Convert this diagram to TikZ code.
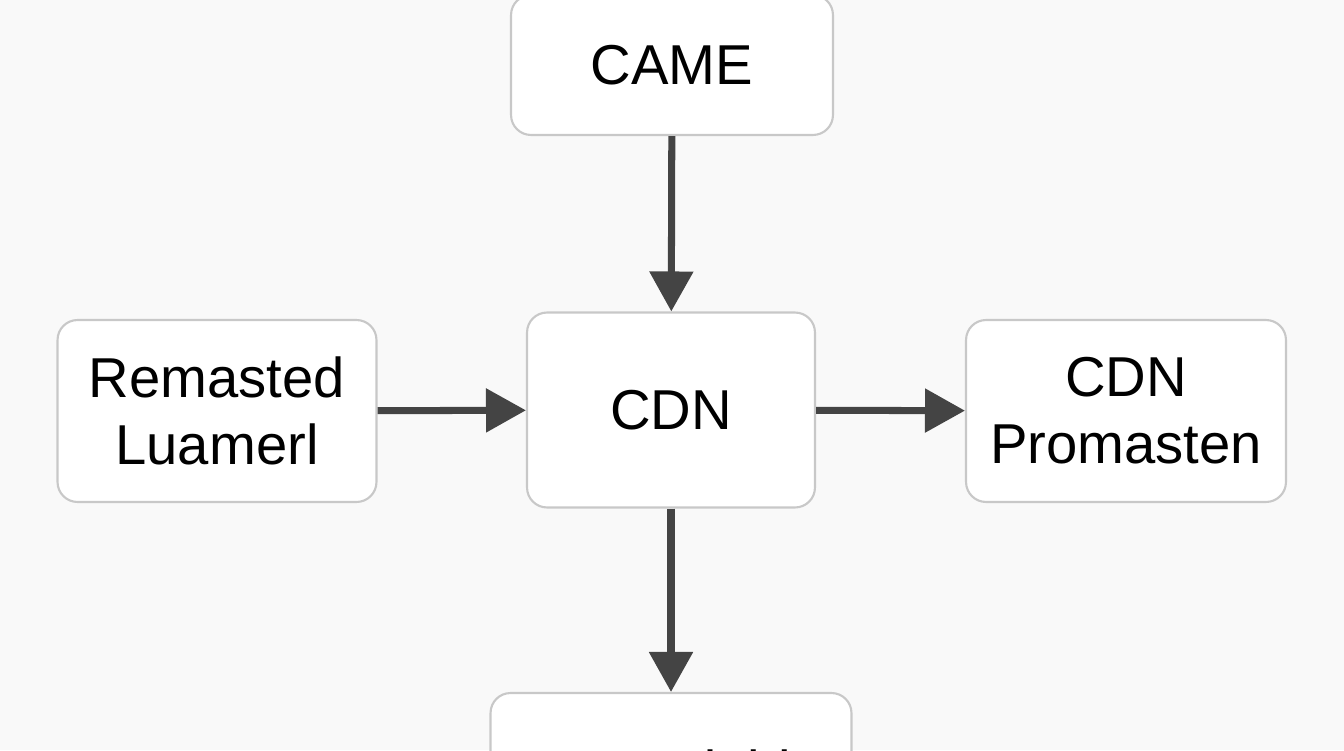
\documentclass[tikz,border=0pt]{standalone}
\usepackage{fontspec}
\setmainfont{Liberation Sans}
\usetikzlibrary{positioning,arrows.meta}
\definecolor{boxline}{RGB}{200,200,200}
\definecolor{arrowgray}{RGB}{68,68,68}
\tikzset{
  box/.style={draw=boxline, line width=1.2pt, fill=white, rounded corners=0.4cm,
    align=center, font=\fontsize{32}{38}\selectfont, inner sep=0pt},
  flow/.style={draw=arrowgray, line width=4pt, -{Triangle[length=0.8cm,width=0.85cm]}}
}
\begin{document}
\begin{tikzpicture}[x=0.02cm,y=-0.02cm]
  \useasboundingbox[fill=gray!5] (0,0) rectangle (1344,750);
  \node[box, minimum width=6.44cm, minimum height=2.8cm] (came) at (672,65) {CAME};
  \node[box, minimum width=5.76cm, minimum height=3.9cm] (cdn) at (671,410) {CDN};
  \node[box, minimum width=6.38cm, minimum height=3.64cm] (remasted) at (217,411) {Remasted\\Luamerl};
  \node[box, minimum width=6.4cm, minimum height=3.64cm] (promasten) at (1126,411) {CDN\\Promasten};
  \node[box, minimum width=7.22cm, minimum height=3.6cm] (bottom) at (671,783) {\raisebox{0.5cm}{Dependable}};
  \draw[flow] (came) -- (cdn);
  \draw[flow] (remasted) -- (cdn);
  \draw[flow] (cdn) -- (promasten);
  \draw[flow] (cdn) -- (bottom);
\end{tikzpicture}
\end{document}
